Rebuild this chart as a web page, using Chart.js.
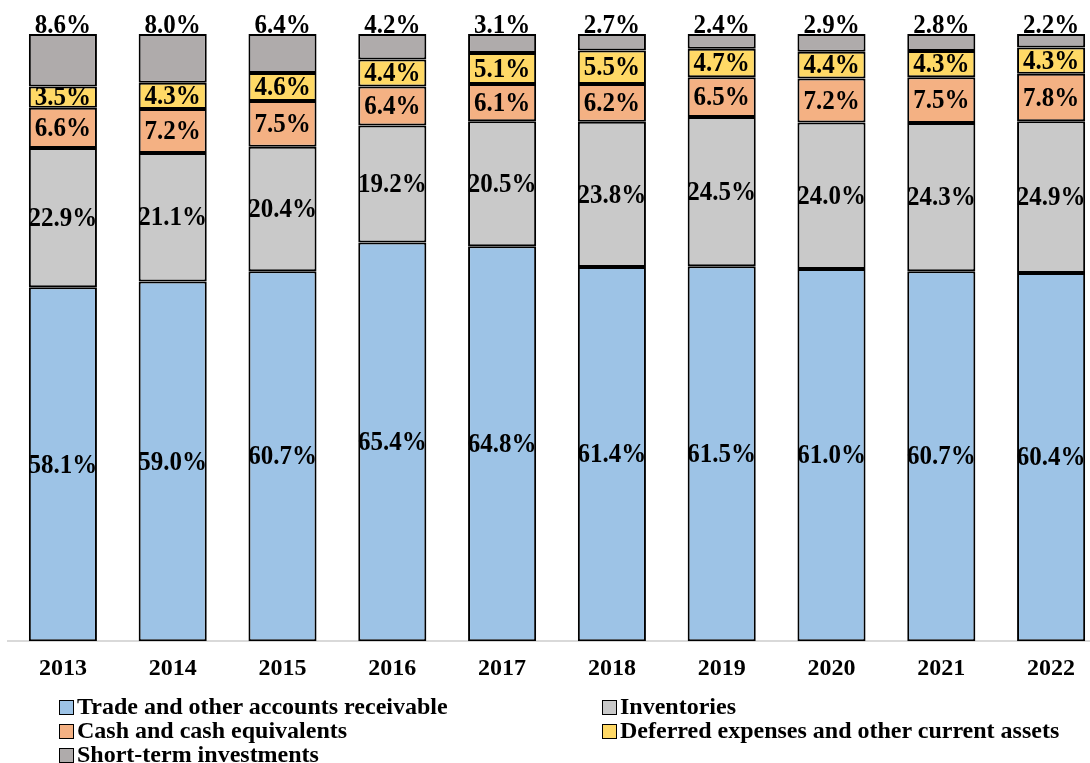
<!DOCTYPE html>
<html>
<head>
<meta charset="utf-8">
<script src="https://cdn.jsdelivr.net/npm/chart.js@4"></script>
<style>
  html, body { margin: 0; padding: 0; background: #fff; overflow: hidden; width: 1090px; height: 763px; }
  #wrap { position: absolute; left: 0; top: 0; width: 1110px; height: 702px; }
  .legend { position: absolute; font-family: "Liberation Serif", "Times New Roman", serif; font-weight: bold; font-size: 24px; color: #000; line-height: 24px; white-space: nowrap; }
  .legend span.box { display: inline-block; width: 13px; height: 13px; border: 1.5px solid #000; margin-right: 3px; vertical-align: -1px; }
</style>
</head>
<body>
<div id="wrap"><canvas id="chart"></canvas></div>
<div id="legend"></div>
<script>
// Years on the x axis
const years = ['2013', '2014', '2015', '2016', '2017', '2018', '2019', '2020', '2021', '2022'];

// Share of current assets, %
const receivables = [58.1, 59.0, 60.7, 65.4, 64.8, 61.4, 61.5, 61.0, 60.7, 60.4];
const inventories = [22.9, 21.1, 20.4, 19.2, 20.5, 23.8, 24.5, 24.0, 24.3, 24.9];
const cash = [6.6, 7.2, 7.5, 6.4, 6.1, 6.2, 6.5, 7.2, 7.5, 7.8];
const deferred = [3.5, 4.3, 4.6, 4.4, 5.1, 5.5, 4.7, 4.4, 4.3, 4.3];
const shortTerm = [8.6, 8.0, 6.4, 4.2, 3.1, 2.7, 2.4, 2.9, 2.8, 2.2];

const seriesNames = [
  'Trade and other accounts receivable',
  'Inventories',
  'Cash and cash equivalents',
  'Deferred expenses and other current assets',
  'Short-term investments'
];
const seriesValues = [receivables, inventories, cash, deferred, shortTerm];
const colors = ['#9DC3E6', '#C9C9C9', '#F4B183', '#FFD966', '#AFABAB'];

// bars are drawn as a 100% stack, labels keep the printed values
const totals = years.map((y, i) => seriesValues.reduce((s, arr) => s + arr[i], 0));

const FONT = '"Liberation Serif", "Times New Roman", serif';
const STRETCH = 1.12; // labels in the original look a bit taller than wide

const labelPlugin = {
  id: 'segLabels',
  afterDatasetsDraw(chart) {
    const ctx = chart.ctx;
    chart.data.datasets.forEach((ds, di) => {
      const meta = chart.getDatasetMeta(di);
      meta.data.forEach((bar, i) => {
        const txt = seriesValues[di][i].toFixed(1) + '%';
        const top = di === seriesValues.length - 1;
        const y = top ? bar.y - 1 : (bar.y + bar.base) / 2 + 1;
        ctx.save();
        ctx.translate(bar.x, y);
        ctx.scale(1, STRETCH);
        ctx.font = 'bold 25px ' + FONT;
        ctx.fillStyle = '#000';
        ctx.textAlign = 'center';
        ctx.textBaseline = top ? 'alphabetic' : 'middle';
        ctx.fillText(txt, 0, 0);
        ctx.restore();
      });
    });
  }
};

const datasets = seriesNames.map((name, k) => ({
  label: name,
  data: seriesValues[k].map((v, i) => v / totals[i] * 100),
  backgroundColor: colors[k],
  borderColor: '#000',
  borderWidth: 2,
  borderSkipped: false,
  barPercentage: 0.62,
  categoryPercentage: 1.0
}));

new Chart(document.getElementById('chart'), {
  type: 'bar',
  data: { labels: years, datasets: datasets },
  options: {
    responsive: true,
    maintainAspectRatio: false,
    animation: false,
    layout: { padding: { top: 34, left: 8, right: 4, bottom: 6 } },
    plugins: {
      legend: { display: false },
      tooltip: { enabled: false }
    },
    scales: {
      x: {
        stacked: true,
        grid: { display: false, drawTicks: false },
        border: { display: true, color: '#D9D9D9', width: 2 },
        ticks: {
          padding: 13,
          color: '#000',
          font: { family: FONT, size: 24, weight: 'bold' }
        }
      },
      y: {
        stacked: true,
        display: false,
        min: 0,
        max: 100
      }
    }
  },
  plugins: [labelPlugin]
});

// Legend in two columns below the axis
const legendPos = [
  { left: 59, top: 694 }, { left: 602, top: 694 },
  { left: 59, top: 718 }, { left: 602, top: 718 },
  { left: 59, top: 742 }
];
const legendEl = document.getElementById('legend');
seriesNames.forEach((name, k) => {
  const d = document.createElement('div');
  d.className = 'legend';
  d.style.left = legendPos[k].left + 'px';
  d.style.top = legendPos[k].top + 'px';
  d.innerHTML = '<span class="box" style="background:' + colors[k] + '"></span>' + name;
  legendEl.appendChild(d);
});
</script>
</body>
</html>
